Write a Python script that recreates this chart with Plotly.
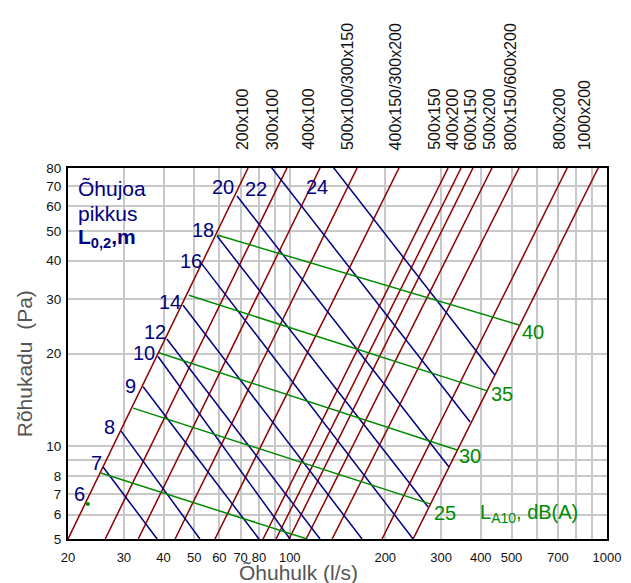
import math
import plotly.graph_objects as go

# ---------------- data ----------------
# Duct-size lines (dark red): air flow (l/s) where each line meets 5 Pa and 80 Pa
duct_q_at_5 = [20, 26.2, 33.3, 43.5, 58.1, 82.4, 90.5, 99.5, 112.6, 136, 195.4, 244.8]
duct_q_at_80 = [73.9, 98.0, 124.6, 163, 221, 315.6, 346.8, 378, 434, 528, 749, 938]
duct_labels = ["200x100", "300x100", "400x100", "500x100/300x150", "400x150/300x200",
               "500x150", "400x200", "600x150", "500x200", "800x150/600x200",
               "800x200", "1000x200"]
duct_label_q = [71.0, 88.3, 114.4, 152.1, 216.0, 285.4, 326.0, 372.4, 425.6, 497.8, 707.4, 848.2]

# Throw length lines (navy): start / end points (l/s, Pa)
throw_names = ["7", "8", "9", "10", "12", "14", "16", "18", "20", "22", "24"]
throw_q0 = [25.8, 29.4, 34.5, 38.4, 41.0, 46.1, 52.9, 59.0, 68.2, 78.9, 93.9]
throw_p0 = [8.56, 11.2, 15.6, 19.6, 22.3, 28.7, 39.0, 48.1, 64.9, 92.1, 132.8]
throw_q1 = [38.2, 52.1, 80.0, 100.2, 124.6, 169, 244.8, 272.9, 317.8, 370.2, 443.8]
throw_p1 = [5, 5, 5, 5, 5, 5, 5, 6.35, 8.56, 11.98, 17.0]

# Throw length labels (position in l/s, Pa)
throw_label_text = ["6", "7", "8", "9", "10", "12", "14", "16", "18", "20", "22", "24"]
throw_label_q = [21.8, 24.6, 27.1, 31.5, 34.7, 37.7, 41.9, 48.7, 53.2, 61.6, 78.3, 121.6]
throw_label_p = [7.0, 8.84, 11.52, 15.68, 20.1, 23.5, 29.4, 39.9, 50.3, 69.5, 68.3, 69.5]

# Sound level lines (green): start / end points (l/s, Pa)
sound_q0 = [25.4, 32.1, 38.7, 48.1, 59.0]
sound_p0 = [8.19, 13.3, 20.1, 30.9, 48.5]
sound_q1 = [113.4, 276.9, 336.8, 421.8, 532]
sound_p1 = [5.0, 6.5, 9.72, 15.1, 24.7]
sound_dot_q = [23.1]
sound_dot_p = [6.5]
sound_label_text = ["25", "30", "35", "40"]
sound_label_q = [308.8, 370.2, 467, 586]
sound_label_p = [6.07, 9.32, 14.75, 23.4]

x_tickvals = [20, 30, 40, 50, 60, 70, 80, 100, 200, 300, 400, 500, 700, 1000]
x_ticktext = ["20", "30", "40", "50", "60", "70", "80", "100", "200", "300", "400", "500",
              "700", "1000"]
x_grid_extra = [90, 600, 800, 900]
y_tickvals = [5, 6, 7, 8, 10, 20, 30, 40, 50, 60, 70, 80]
y_ticktext = ["5", "6", "7", "8", "10", "20", "30", "40", "50", "60", "70", "80"]
y_grid_extra = [9]

# ---------------- styling ----------------
RED = "#8b0000"
NAVY = "#000080"
GREEN = "#008a00"
GRID = "#c8c8c8"
FONT = "Arial, Liberation Sans, sans-serif"
L = math.log10

fig = go.Figure()

for q5, q80 in zip(duct_q_at_5, duct_q_at_80):
    fig.add_trace(go.Scatter(x=[q5, q80], y=[5, 80], mode="lines",
                             line=dict(color=RED, width=1.5), hoverinfo="skip"))

for a, b, c, d in zip(throw_q0, throw_p0, throw_q1, throw_p1):
    fig.add_trace(go.Scatter(x=[a, c], y=[b, d], mode="lines",
                             line=dict(color=NAVY, width=1.5), hoverinfo="skip"))

for a, b, c, d in zip(sound_q0, sound_p0, sound_q1, sound_p1):
    fig.add_trace(go.Scatter(x=[a, c], y=[b, d], mode="lines",
                             line=dict(color=GREEN, width=1.5), hoverinfo="skip"))

fig.add_trace(go.Scatter(x=sound_dot_q, y=sound_dot_p, mode="markers",
                         marker=dict(color=GREEN, size=4), hoverinfo="skip"))

ann = []
for t, q, p in zip(throw_label_text, throw_label_q, throw_label_p):
    ann.append(dict(x=L(q), y=L(p), xref="x", yref="y", text=t, showarrow=False,
                    font=dict(family=FONT, size=20, color=NAVY), xanchor="center", yanchor="middle"))
for t, q, p in zip(sound_label_text, sound_label_q, sound_label_p):
    ann.append(dict(x=L(q), y=L(p), xref="x", yref="y", text=t, showarrow=False,
                    font=dict(family=FONT, size=20, color=GREEN), xanchor="center", yanchor="middle"))
ann.append(dict(x=L(568), y=L(6.07), xref="x", yref="y",
                text="L<sub>A10</sub>, dB(A)", showarrow=False,
                font=dict(family=FONT, size=20, color=GREEN), xanchor="center", yanchor="middle"))

for t, q in zip(duct_labels, duct_label_q):
    ann.append(dict(x=L(q), y=1.043, xref="x", yref="paper", text=t, showarrow=False,
                    textangle=-90, font=dict(family=FONT, size=16, color="#111111"),
                    xanchor="center", yanchor="bottom"))

for t, p, bold in [("Õhujoa", 68.8, False), ("pikkus", 57.1, False), ("L<sub>0,2</sub>,m", 47.4, True)]:
    ann.append(dict(x=L(21.2), y=L(p), xref="x", yref="y",
                    text=("<b>%s</b>" % t) if bold else t, showarrow=False,
                    font=dict(family=FONT, size=21, color=NAVY), xanchor="left", yanchor="middle"))

ann.append(dict(x=0.427, y=-0.089, xref="paper", yref="paper", text="Õhuhulk (l/s)",
                showarrow=False, font=dict(family=FONT, size=21, color="#555555"),
                xanchor="center", yanchor="middle"))
ann.append(dict(x=-0.0816, y=0.471, xref="paper", yref="paper", text="Rõhukadu  (Pa)",
                showarrow=False, textangle=-90, font=dict(family=FONT, size=21, color="#555555"),
                xanchor="center", yanchor="middle"))

# the page body adds an 8px margin, so the figure is offset to match the 631x583 window
fig.update_layout(
    width=623, height=575,
    margin=dict(l=60, r=24, t=160, b=44, autoexpand=False),
    paper_bgcolor="white", plot_bgcolor="white",
    showlegend=False,
    annotations=ann,
    font=dict(family=FONT, size=13.5, color="#111111"),
)
fig.update_xaxes(type="log", range=[L(20), L(1000)], tickvals=x_tickvals, ticktext=x_ticktext,
                 tickfont=dict(size=13),
                 showgrid=True, gridcolor=GRID, gridwidth=1.5, automargin=False,
                 minor=dict(tickvals=x_grid_extra, showgrid=True, gridcolor=GRID, gridwidth=1.5,
                            ticks=""),
                 showline=True, linecolor="black", linewidth=2, mirror=True,
                 ticks="outside", ticklen=5, tickcolor="rgba(0,0,0,0)", zeroline=False)
fig.update_yaxes(type="log", range=[L(5), L(80)], tickvals=y_tickvals, ticktext=y_ticktext,
                 showgrid=True, gridcolor=GRID, gridwidth=1.5, automargin=False,
                 minor=dict(tickvals=y_grid_extra, showgrid=True, gridcolor=GRID, gridwidth=1.5,
                            ticks=""),
                 showline=True, linecolor="black", linewidth=2, mirror=True,
                 ticks="outside", ticklen=2, tickcolor="rgba(0,0,0,0)", zeroline=False)

fig.write_html("out.html")
